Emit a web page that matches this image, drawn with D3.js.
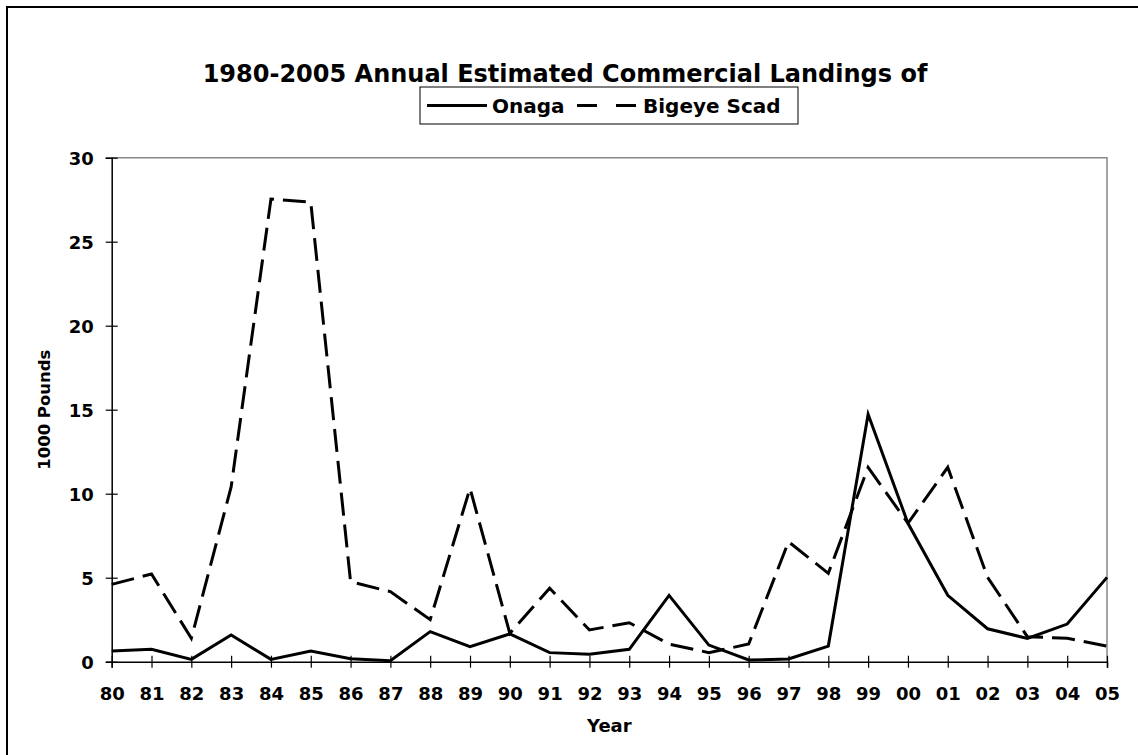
<!DOCTYPE html>
<html><head><meta charset="utf-8">
<script src="https://cdn.jsdelivr.net/npm/d3@7"></script>
<style>
body{margin:0;background:#fff}
text{font-family:"DejaVu Sans",Verdana,sans-serif;font-weight:bold;fill:#000}
</style>
</head><body>
<svg id="c" width="1138" height="755"></svg>
<script>
const years = ["80","81","82","83","84","85","86","87","88","89","90","91","92","93","94","95","96","97","98","99","00","01","02","03","04","05"];
const onaga = [0.64,0.74,0.14,1.59,0.14,0.64,0.18,0.06,1.79,0.89,1.65,0.54,0.44,0.74,3.95,0.99,0.10,0.16,0.93,14.73,8.24,3.95,1.96,1.39,2.24,5.02];
const bigeyeScad = [4.60,5.22,1.39,10.4,27.54,27.35,4.76,4.17,2.50,10.32,1.69,4.37,1.89,2.32,1.05,0.54,1.05,7.14,5.26,11.57,8.24,11.57,5.02,1.49,1.39,0.93];
const yTicks = [0,5,10,15,20,25,30];
const seriesNames = ["Onaga","Bigeye Scad"];
const chartTitle = "1980-2005 Annual Estimated Commercial Landings of";
const xTitle = "Year";
const yTitle = "1000 Pounds";

const svg = d3.select("#c");
const L = 111.7, R = 1107, T = 157.7, B = 661.7;

const x = d3.scalePoint().domain(years).range([L, R]);
const y = d3.scaleLinear().domain([0, 30]).range([B, T]);

// outer chart border (top/left visible)
svg.append("rect").attr("x", 7).attr("y", 7).attr("width", 1200).attr("height", 800)
  .attr("fill", "none").attr("stroke", "#000").attr("stroke-width", 2);

// plot frame (top/right gray)
svg.append("path").attr("d", `M${L},${T}H${R}V${B}`).attr("fill", "none")
  .attr("stroke", "#888").attr("stroke-width", 1.5);

// y axis
const ya = svg.append("g").attr("transform", `translate(${L},0)`)
  .call(d3.axisLeft(y).tickValues(yTicks).tickSize(6).tickPadding(12).tickFormat(d3.format("d")));
ya.select(".domain").attr("stroke", "#000").attr("stroke-width", 1.5);
ya.selectAll(".tick line").attr("x1", -6).attr("x2", 6).attr("stroke", "#000").attr("stroke-width", 1.2);
ya.selectAll(".tick text").style("font-size", "18px").attr("dy", "0.36em");

// x axis
const xa = svg.append("g").attr("transform", `translate(0,${B})`)
  .call(d3.axisBottom(x).tickSize(6).tickPadding(20));
xa.select(".domain").attr("stroke", "#000").attr("stroke-width", 1.5);
xa.selectAll(".tick line").attr("y1", -6).attr("y2", 6).attr("stroke", "#000").attr("stroke-width", 1.2);
xa.selectAll(".tick text").style("font-size", "18px").attr("dy", "0").attr("y", 38);

// lines
const line = d3.line().x((d, i) => x(years[i])).y(d => y(d));
svg.append("path").datum(bigeyeScad).attr("d", line).attr("fill", "none")
  .attr("stroke", "#000").attr("stroke-width", 3).attr("stroke-dasharray", "23,9");
svg.append("path").datum(onaga).attr("d", line).attr("fill", "none")
  .attr("stroke", "#000").attr("stroke-width", 3);

// title
svg.append("text").attr("x", 565).attr("y", 82).attr("text-anchor", "middle")
  .style("font-size", "24px").text(chartTitle);

// axis titles
svg.append("text").attr("x", (L + R) / 2).attr("y", 732).attr("text-anchor", "middle")
  .style("font-size", "18px").text(xTitle);
svg.append("text").attr("transform", `translate(50,${(T + B) / 2}) rotate(-90)`)
  .attr("text-anchor", "middle").style("font-size", "16.5px").text(yTitle);

// legend
const lg = svg.append("g");
lg.append("rect").attr("x", 420).attr("y", 87).attr("width", 378).attr("height", 37)
  .attr("fill", "#fff").attr("stroke", "#000").attr("stroke-width", 1);
const ly = 105.5;
lg.append("line").attr("x1", 427).attr("x2", 487).attr("y1", ly).attr("y2", ly)
  .attr("stroke", "#000").attr("stroke-width", 3);
lg.append("text").attr("x", 492).attr("y", ly + 7).style("font-size", "20px").text(seriesNames[0]);
lg.append("line").attr("x1", 577).attr("x2", 638).attr("y1", ly).attr("y2", ly)
  .attr("stroke", "#000").attr("stroke-width", 3).attr("stroke-dasharray", "20,19");
lg.append("text").attr("x", 643).attr("y", ly + 7).style("font-size", "20px").text(seriesNames[1]);
</script>
</body></html>
